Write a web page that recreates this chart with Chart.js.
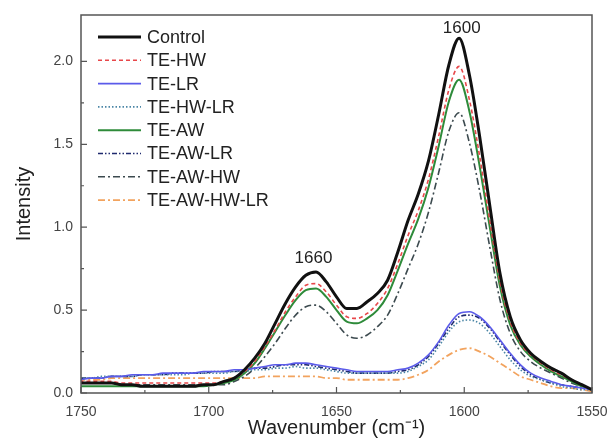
<!DOCTYPE html>
<html>
<head>
<meta charset="utf-8">
<script src="https://cdn.jsdelivr.net/npm/chart.js@4.4.0/dist/chart.umd.min.js"></script>
<style>
  html, body { margin: 0; padding: 0; background: #fff; }
  #wrap { width: 607px; height: 440px; }
</style>
</head>
<body>
<div id="wrap"><canvas id="ramanChart"></canvas></div>
<script>
// wavenumber (cm-1), one point every 4 cm-1
const wavenumber = [1550, 1554, 1558, 1562, 1566, 1570, 1574, 1578, 1582, 1586,
  1590, 1594, 1598, 1602, 1606, 1610, 1614, 1618, 1622, 1626,
  1630, 1634, 1638, 1642, 1646, 1650, 1654, 1658, 1662, 1666,
  1670, 1674, 1678, 1682, 1686, 1690, 1694, 1698, 1702, 1706,
  1710, 1714, 1718, 1722, 1726, 1730, 1734, 1738, 1742, 1746, 1750];

const control = [0.02, 0.05, 0.08, 0.12, 0.15, 0.19, 0.24, 0.32, 0.46, 0.72,
  1.13, 1.55, 1.92, 2.14, 1.98, 1.68, 1.40, 1.20, 1.04, 0.85,
  0.68, 0.60, 0.55, 0.51, 0.51, 0.58, 0.67, 0.73, 0.71, 0.64,
  0.54, 0.42, 0.30, 0.21, 0.14, 0.09, 0.07, 0.05, 0.05, 0.04,
  0.04, 0.04, 0.04, 0.04, 0.04, 0.05, 0.05, 0.06, 0.06, 0.06, 0.06];

const teHW = [0.02, 0.05, 0.08, 0.11, 0.14, 0.18, 0.23, 0.30, 0.43, 0.67,
  1.04, 1.43, 1.77, 1.97, 1.83, 1.55, 1.29, 1.10, 0.95, 0.78,
  0.63, 0.54, 0.48, 0.45, 0.46, 0.53, 0.61, 0.66, 0.65, 0.58,
  0.49, 0.38, 0.28, 0.19, 0.13, 0.09, 0.07, 0.06, 0.06, 0.06,
  0.06, 0.06, 0.06, 0.06, 0.06, 0.06, 0.06, 0.07, 0.07, 0.07, 0.07];

const teLR = [0.02, 0.03, 0.04, 0.05, 0.07, 0.09, 0.12, 0.17, 0.24, 0.32,
  0.40, 0.46, 0.49, 0.48, 0.41, 0.31, 0.23, 0.18, 0.15, 0.14,
  0.13, 0.13, 0.13, 0.13, 0.14, 0.15, 0.16, 0.17, 0.18, 0.18,
  0.17, 0.17, 0.16, 0.15, 0.14, 0.14, 0.13, 0.13, 0.13, 0.12,
  0.12, 0.12, 0.12, 0.11, 0.11, 0.11, 0.10, 0.10, 0.09, 0.09, 0.08];

const teHWLR = [0.02, 0.02, 0.03, 0.04, 0.06, 0.08, 0.10, 0.14, 0.20, 0.28,
  0.36, 0.42, 0.44, 0.43, 0.37, 0.28, 0.20, 0.16, 0.13, 0.12,
  0.12, 0.12, 0.12, 0.12, 0.12, 0.13, 0.14, 0.15, 0.15, 0.16,
  0.15, 0.15, 0.14, 0.14, 0.13, 0.13, 0.12, 0.12, 0.12, 0.12,
  0.11, 0.11, 0.11, 0.11, 0.11, 0.10, 0.10, 0.10, 0.10, 0.09, 0.09];

const teAW = [0.02, 0.04, 0.07, 0.10, 0.13, 0.17, 0.22, 0.29, 0.41, 0.64,
  1.00, 1.37, 1.70, 1.89, 1.76, 1.49, 1.24, 1.05, 0.90, 0.74,
  0.59, 0.50, 0.45, 0.42, 0.43, 0.50, 0.58, 0.63, 0.62, 0.56,
  0.47, 0.37, 0.27, 0.18, 0.12, 0.08, 0.06, 0.05, 0.04, 0.04,
  0.04, 0.04, 0.04, 0.04, 0.04, 0.04, 0.04, 0.04, 0.04, 0.04, 0.04];

const teAWLR = [0.02, 0.03, 0.04, 0.05, 0.06, 0.08, 0.11, 0.16, 0.23, 0.31,
  0.39, 0.45, 0.47, 0.46, 0.39, 0.30, 0.22, 0.17, 0.14, 0.13,
  0.12, 0.12, 0.12, 0.12, 0.13, 0.14, 0.15, 0.16, 0.17, 0.17,
  0.17, 0.16, 0.15, 0.15, 0.14, 0.13, 0.13, 0.13, 0.12, 0.12,
  0.12, 0.12, 0.11, 0.11, 0.11, 0.10, 0.10, 0.10, 0.09, 0.09, 0.09];

const teAWHW = [0.02, 0.04, 0.06, 0.09, 0.12, 0.15, 0.19, 0.25, 0.36, 0.56,
  0.88, 1.22, 1.51, 1.69, 1.58, 1.33, 1.09, 0.90, 0.75, 0.60,
  0.47, 0.40, 0.35, 0.33, 0.35, 0.42, 0.49, 0.53, 0.52, 0.47,
  0.39, 0.30, 0.22, 0.15, 0.10, 0.07, 0.05, 0.05, 0.05, 0.05,
  0.05, 0.05, 0.05, 0.05, 0.05, 0.05, 0.05, 0.06, 0.06, 0.06, 0.06];

const teAWHWLR = [0.01, 0.02, 0.03, 0.03, 0.04, 0.06, 0.08, 0.10, 0.14, 0.18,
  0.22, 0.25, 0.27, 0.26, 0.23, 0.19, 0.14, 0.11, 0.09, 0.08,
  0.08, 0.08, 0.08, 0.08, 0.08, 0.09, 0.09, 0.10, 0.10, 0.10,
  0.10, 0.10, 0.10, 0.09, 0.09, 0.09, 0.09, 0.09, 0.09, 0.09,
  0.09, 0.09, 0.09, 0.09, 0.09, 0.09, 0.09, 0.09, 0.08, 0.08, 0.08];

// tick labels and peak labels
const xMajor = [1550, 1600, 1650, 1700, 1750];
const xMinor = [1575, 1625, 1675, 1725];
const yMajor = [0, 0.5, 1.0, 1.5, 2.0];
const yMinor = [0.25, 0.75, 1.25, 1.75];
const peakText = ['1600', '1660'];
const peakX = [1601, 1659];
const peakY = [2.2, 0.81];

const FONT = "'Liberation Sans', Arial, sans-serif";

function series(label, values, color, width, dash) {
  return {
    label: label,
    data: values.map((v, i) => ({ x: wavenumber[i], y: v })),
    borderColor: color,
    borderWidth: width,
    borderDash: dash,
    pointRadius: 0,
    fill: false,
    cubicInterpolationMode: 'monotone'
  };
}

const datasets = [
  series('Control', control, '#111111', 3, []),
  series('TE-HW', teHW, '#e8474a', 1.6, [4, 3]),
  series('TE-LR', teLR, '#5b5bea', 1.6, []),
  series('TE-HW-LR', teHWLR, '#4b86a6', 1.6, [1.5, 2]),
  series('TE-AW', teAW, '#2e8b3a', 2, []),
  series('TE-AW-LR', teAWLR, '#1f2a6e', 1.6, [5, 2, 1.5, 2, 1.5, 2]),
  series('TE-AW-HW', teAWHW, '#3c4a4f', 1.6, [7, 3, 2, 3]),
  series('TE-AW-HW-LR', teAWHWLR, '#f2a35e', 1.8, [7, 3, 2, 3])
];

// box round the plot with inward tick marks
const frameAndTicks = {
  id: 'frameAndTicks',
  afterDatasetsDraw(chart) {
    const { ctx, chartArea: a, scales: { x, y } } = chart;
    ctx.save();
    ctx.strokeStyle = '#555';
    ctx.lineWidth = 1.5;
    ctx.strokeRect(a.left, a.top, a.right - a.left, a.bottom - a.top);
    ctx.lineWidth = 1.2;
    ctx.beginPath();
    xMajor.forEach(v => { const p = x.getPixelForValue(v); ctx.moveTo(p, a.bottom); ctx.lineTo(p, a.bottom - 6); });
    xMinor.forEach(v => { const p = x.getPixelForValue(v); ctx.moveTo(p, a.bottom); ctx.lineTo(p, a.bottom - 3); });
    yMajor.forEach(v => { const p = y.getPixelForValue(v); ctx.moveTo(a.left, p); ctx.lineTo(a.left + 6, p); });
    yMinor.forEach(v => { const p = y.getPixelForValue(v); ctx.moveTo(a.left, p); ctx.lineTo(a.left + 3, p); });
    ctx.stroke();
    ctx.restore();
  }
};

// legend inside the plot + peak labels
const insideLegend = {
  id: 'insideLegend',
  afterDraw(chart) {
    const { ctx, scales: { x, y } } = chart;
    ctx.save();
    ctx.font = '18px ' + FONT;
    ctx.fillStyle = '#222';
    ctx.textBaseline = 'middle';
    chart.data.datasets.forEach((ds, i) => {
      const ly = 37 + i * 23.3;
      ctx.strokeStyle = ds.borderColor;
      ctx.lineWidth = ds.borderWidth;
      ctx.setLineDash(ds.borderDash);
      ctx.beginPath();
      ctx.moveTo(98, ly);
      ctx.lineTo(141, ly);
      ctx.stroke();
      ctx.setLineDash([]);
      ctx.fillText(ds.label, 147, ly + 1);
    });
    ctx.font = '17px ' + FONT;
    ctx.textAlign = 'center';
    peakText.forEach((t, i) => {
      ctx.fillText(t, x.getPixelForValue(peakX[i]), y.getPixelForValue(peakY[i]));
    });
    ctx.restore();
  }
};

new Chart(document.getElementById('ramanChart').getContext('2d'), {
  type: 'line',
  data: { datasets: datasets },
  options: {
    responsive: true,
    maintainAspectRatio: false,
    animation: false,
    layout: { padding: { top: 15, right: 15, left: 0, bottom: 0 } },
    plugins: { legend: { display: false }, tooltip: { enabled: false } },
    scales: {
      x: {
        type: 'linear',
        reverse: true,
        min: 1550,
        max: 1750,
        afterBuildTicks: s => { s.ticks = xMajor.map(v => ({ value: v })); },
        afterFit: s => { s.height = 47; },
        grid: { display: false },
        border: { display: false },
        ticks: { padding: 3, color: '#444', font: { family: FONT, size: 14 }, callback: v => String(v) },
        title: { display: true, text: 'Wavenumber (cm⁻¹)', color: '#222',
          font: { family: FONT, size: 20, lineHeight: 1.2 }, padding: { top: 0, bottom: 0 } }
      },
      y: {
        min: 0,
        max: 2.28,
        afterBuildTicks: s => { s.ticks = yMajor.map(v => ({ value: v })); },
        afterFit: s => { s.width = 81; },
        grid: { display: false },
        border: { display: false },
        ticks: { padding: 0, color: '#444', font: { family: FONT, size: 14 }, callback: v => v.toFixed(1) },
        title: { display: true, text: 'Intensity', color: '#222',
          font: { family: FONT, size: 20, lineHeight: 1.2 }, padding: { top: 12, bottom: 0 } }
      }
    }
  },
  plugins: [frameAndTicks, insideLegend]
});
</script>
</body>
</html>
